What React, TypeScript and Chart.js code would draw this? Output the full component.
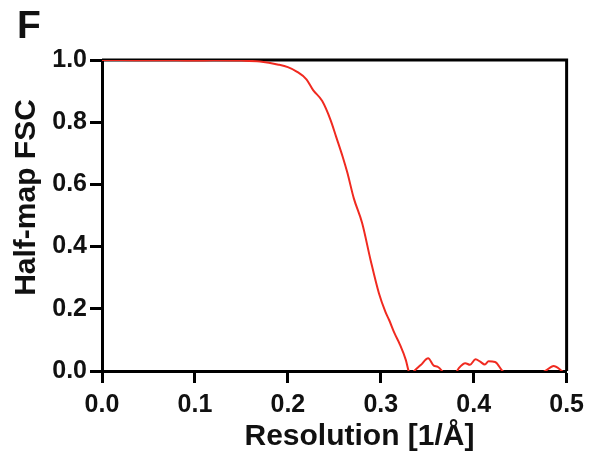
import React, { useEffect, useRef } from "react";
import { Chart, registerables } from "chart.js";

Chart.register(...registerables);

const resolution = [0, 0.02, 0.05, 0.08, 0.1, 0.12, 0.15, 0.17, 0.19, 0.2, 0.21, 0.22, 0.227, 0.237, 0.246, 0.252, 0.259, 0.264, 0.271, 0.28, 0.289, 0.298, 0.305, 0.309, 0.315, 0.32, 0.327, 0.33, 0.333, 0.336, 0.343, 0.351, 0.357, 0.361, 0.366, 0.37, 0.38, 0.384, 0.391, 0.396, 0.402, 0.407, 0.412, 0.416, 0.423, 0.431, 0.44, 0.46, 0.477, 0.486, 0.495, 0.5];
const fsc = [1.0, 1.0, 0.999, 0.999, 0.998, 0.999, 0.998, 0.995, 0.985, 0.977, 0.962, 0.938, 0.904, 0.868, 0.807, 0.753, 0.689, 0.638, 0.555, 0.475, 0.357, 0.25, 0.19, 0.164, 0.12, 0.089, 0.035, 0.0, -0.01, 0.0, 0.019, 0.041, 0.017, 0.014, 0.0, -0.02, -0.01, 0.009, 0.025, 0.02, 0.038, 0.03, 0.021, 0.031, 0.029, 0.0, -0.02, -0.02, 0.0, 0.016, 0.0, -0.01];
const xTicks = [0, 0.1, 0.2, 0.3, 0.4, 0.5];
const yTicks = [0, 0.2, 0.4, 0.6, 0.8, 1.0];
const panelLabel = "F";
const xTitle = "Resolution [1/Å]";
const yTitle = "Half-map FSC";

const FONT = "'Liberation Sans', Arial, Helvetica, sans-serif";

const decorPlugin = {
  id: "decor",
  beforeDatasetsDraw(chart: any) {
    const { ctx, chartArea } = chart;
    ctx.save();
    ctx.strokeStyle = "#000";
    ctx.lineWidth = 3;
    ctx.beginPath();
    ctx.moveTo(chartArea.left, chartArea.top);
    ctx.lineTo(chartArea.right, chartArea.top);
    ctx.lineTo(chartArea.right, chartArea.bottom);
    ctx.stroke();
    ctx.restore();
  },
  afterDraw(chart: any) {
    const { ctx } = chart;
    ctx.save();
    ctx.fillStyle = "#111";
    ctx.font = `bold 39px ${FONT}`;
    ctx.textAlign = "left";
    ctx.textBaseline = "alphabetic";
    ctx.fillText(panelLabel, 17, 38);
    ctx.font = `bold 30px ${FONT}`;
    ctx.textAlign = "center";
    ctx.fillText(xTitle, 359.5, 445);
    ctx.translate(35, 197.5);
    ctx.rotate(-Math.PI / 2);
    ctx.fillText(yTitle, 0, 0);
    ctx.restore();
  },
};

export default function App() {
  const ref = useRef<HTMLCanvasElement | null>(null);
  useEffect(() => {
    if (!ref.current) return;
    const chart = new Chart(ref.current, {
      type: "line",
      data: {
        datasets: [
          {
            data: resolution.map((x, i) => ({ x, y: fsc[i] })),
            borderColor: "#f02a20",
            borderWidth: 2,
            pointRadius: 0,
            cubicInterpolationMode: "monotone",
            fill: false,
          },
        ],
      },
      options: {
        responsive: false,
        animation: false,
        devicePixelRatio: 1,
        layout: { padding: { top: 60, right: 23, left: 0, bottom: 0 } },
        plugins: { legend: { display: false }, tooltip: { enabled: false }, title: { display: false } },
        scales: {
          x: {
            type: "linear",
            min: 0,
            max: 0.5,
            afterFit: (s: any) => { s.height = 92; },
            afterBuildTicks: (s: any) => { s.ticks = xTicks.map((v) => ({ value: v })); },
            ticks: {
              callback: (v: any) => Number(v).toFixed(1),
              color: "#111",
              font: { family: FONT, size: 25, weight: "bold" },
              padding: 7,
              maxRotation: 0,
            },
            grid: { drawOnChartArea: false, drawTicks: true, tickLength: 12, tickWidth: 3, tickColor: "#000" },
            border: { display: true, width: 3, color: "#000" },
          },
          y: {
            type: "linear",
            min: 0,
            max: 1,
            afterFit: (s: any) => { s.width = 102; },
            afterBuildTicks: (s: any) => { s.ticks = yTicks.map((v) => ({ value: v })); },
            ticks: {
              callback: (v: any) => Number(v).toFixed(1),
              color: "#111",
              font: { family: FONT, size: 25, weight: "bold" },
              padding: 3,
            },
            grid: { drawOnChartArea: false, drawTicks: true, tickLength: 12, tickWidth: 3, tickColor: "#000" },
            border: { display: true, width: 3, color: "#000" },
          },
        },
      },
      plugins: [decorPlugin],
    });
    return () => chart.destroy();
  }, []);
  return (
    <div style={{ position: "absolute", left: 0, top: 0, width: 591, height: 463, background: "#fff" }}>
      <canvas ref={ref} width={591} height={463} style={{ display: "block", width: 591, height: 463 }} />
    </div>
  );
}
